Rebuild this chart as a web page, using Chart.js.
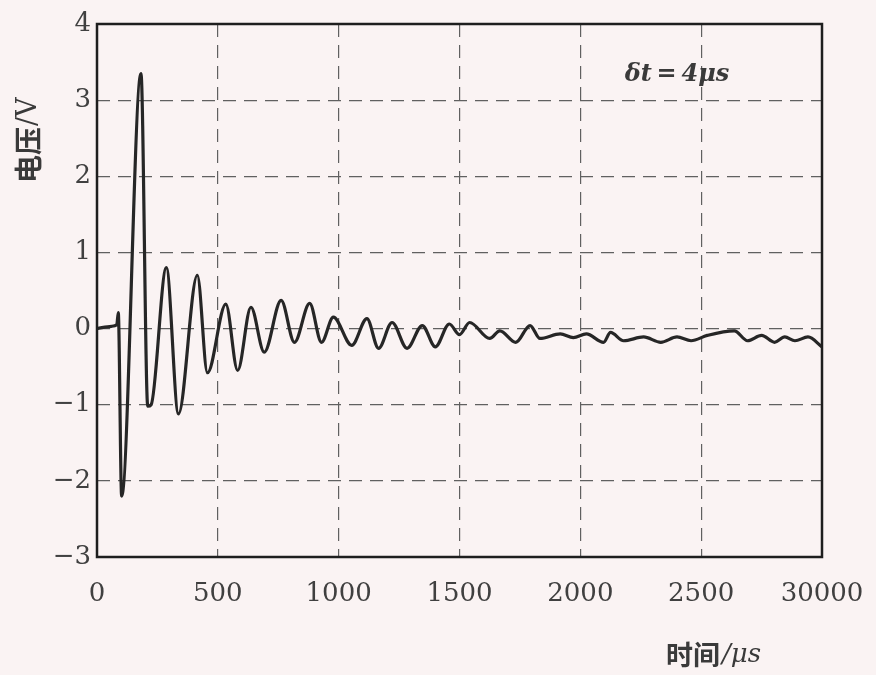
<!DOCTYPE html>
<html>
<head>
<meta charset="utf-8">
<script src="https://cdn.jsdelivr.net/npm/chart.js@4.4.1/dist/chart.umd.min.js"></script>
<style>
  html, body { margin: 0; padding: 0; background: #faf3f3; }
  #wrap { width: 876px; height: 675px; }
</style>
</head>
<body>
<div id="wrap"><canvas id="grafico" width="876" height="675"></canvas></div>
<script>
// tiempo (µs) y voltaje (V)
const tiempo = [0, 60, 82, 88, 102, 182, 210, 224, 287, 337, 415, 457, 533, 582, 637, 692, 762, 817, 880, 929, 978, 1054, 1117, 1165, 1221,
  1283, 1346, 1400, 1458, 1500, 1542, 1625, 1667, 1733, 1792, 1833, 1917, 1971, 2025, 2096, 2125, 2179, 2262, 2333, 2400, 2458, 2525,
  2637, 2692, 2750, 2804, 2846, 2888, 2942, 3000];
const voltaje = [0, 0.03, 0.05, 0.21, -2.2, 3.35, -1.02, -1.0, 0.8, -1.12, 0.7, -0.58, 0.32, -0.55, 0.28, -0.31, 0.37, -0.18, 0.33, -0.18, 0.15, -0.22, 0.13, -0.26, 0.08,
  -0.26, 0.04, -0.24, 0.06, -0.08, 0.08, -0.13, -0.03, -0.18, 0.04, -0.13, -0.07, -0.12, -0.07, -0.18, -0.05, -0.16, -0.11, -0.18, -0.11, -0.16, -0.09,
  -0.03, -0.16, -0.09, -0.18, -0.11, -0.16, -0.11, -0.24];
const ticksX = [0, 500, 1000, 1500, 2000, 2500, 3000];
const etiquetasX = ['0', '500', '1000', '1500', '2000', '2500', '30000'];
const ticksY = [-3, -2, -1, 0, 1, 2, 3, 4];

const textos = {
    id: 'textos',
    afterDraw(chart) {
        const ctx = chart.ctx;
        const a = chart.chartArea;
        ctx.save();
        // marco
        ctx.strokeStyle = '#1e1e1e';
        ctx.lineWidth = 2.5;
        ctx.strokeRect(a.left, a.top, a.right - a.left, a.bottom - a.top);
        // anotacion
        const xs = chart.scales.x, ys = chart.scales.y;
        ctx.fillStyle = '#3a3a3a';
        ctx.textBaseline = 'middle';
        ctx.textAlign = 'center';
        ctx.font = 'italic bold 24px "DejaVu Serif"';
        ctx.fillText('δt\u2009=\u20094μs', xs.getPixelForValue(2400), ys.getPixelForValue(3.33));
        // titulo eje x
        ctx.font = 'bold 27px "Noto Sans CJK SC"';
        ctx.textAlign = 'right';
        ctx.fillText('时间', 720, 655);
        ctx.textAlign = 'left';
        ctx.font = 'italic 26px "DejaVu Serif"';
        ctx.fillText('/μs', 722, 655);
        // titulo eje y
        ctx.translate(28, 141);
        ctx.rotate(-Math.PI / 2);
        ctx.textAlign = 'right';
        ctx.font = 'bold 28px "Noto Sans CJK SC"';
        ctx.fillText('电压', 14, 0);
        ctx.textAlign = 'left';
        ctx.font = '27px "DejaVu Serif"';
        ctx.fillText('/V', 15, 1);
        ctx.restore();
    }
};

const ctx = document.getElementById('grafico').getContext('2d');
new Chart(ctx, {
    type: 'line',
    data: {
        datasets: [{
            label: '电压',
            data: tiempo.map((t, i) => ({x: t, y: voltaje[i]})),
            borderColor: '#262626',
            borderWidth: 3.2,
            pointRadius: 0,
            fill: false,
            cubicInterpolationMode: 'monotone'
        }]
    },
    options: {
        responsive: false,
        animation: false,
        layout: { padding: { left: 0, top: 24, right: 54, bottom: 0 } },
        plugins: { legend: { display: false }, tooltip: { enabled: false } },
        scales: {
            x: {
                type: 'linear',
                min: 0,
                max: 3000,
                afterBuildTicks: s => { s.ticks = ticksX.map(v => ({value: v})); },
                afterFit: s => { s.height = 118; s.paddingLeft = 0; s.paddingRight = 0; },
                ticks: {
                    padding: 22,
                    maxRotation: 0,
                    color: '#404040',
                    font: { family: 'DejaVu Serif', size: 26 },
                    callback: v => etiquetasX[ticksX.indexOf(v)]
                },
                grid: { color: '#606060', lineWidth: 1.2, drawTicks: false },
                border: { display: false, dash: [13, 8] }
            },
            y: {
                min: -3,
                max: 4,
                afterBuildTicks: s => { s.ticks = ticksY.map(v => ({value: v})); },
                afterFit: s => { s.width = 97; s.paddingTop = 0; s.paddingBottom = 0; },
                ticks: {
                    padding: 6,
                    color: '#404040',
                    font: { family: 'DejaVu Serif', size: 26 },
                    callback: v => String(v).replace('-', '−')
                },
                grid: { color: '#606060', lineWidth: 1.2, drawTicks: false },
                border: { display: false, dash: [13, 8] }
            }
        }
    },
    plugins: [textos]
});
</script>
</body>
</html>
